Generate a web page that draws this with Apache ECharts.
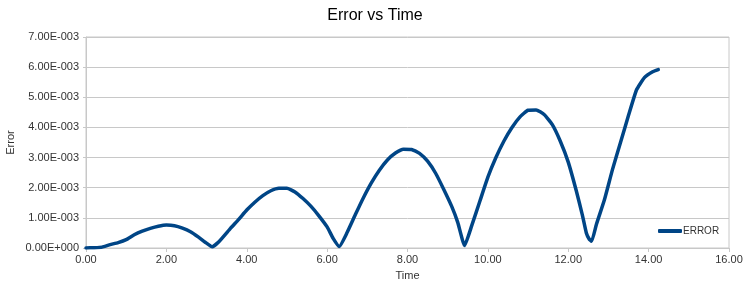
<!DOCTYPE html>
<html><head><meta charset="utf-8">
<script src="https://cdn.jsdelivr.net/npm/echarts@6/dist/echarts.min.js"></script>
<style>html,body{margin:0;padding:0;background:#fff}#c{width:750px;height:281px}</style>
</head><body><div id="c"></div>
<script>
const seriesName = 'ERROR';
const times = [0.0,0.2,0.4,0.6,0.8,1.0,1.2,1.4,1.6,1.8,2.0,2.2,2.4,2.6,2.8,3.0,3.14,3.3,3.6,3.8,4.0,4.2,4.4,4.6,4.8,5.0,5.2,5.4,5.6,5.8,6.0,6.15,6.3,6.5,6.7,6.9,7.1,7.3,7.5,7.7,7.9,8.1,8.3,8.5,8.7,8.9,9.1,9.25,9.42,9.6,9.8,10.0,10.2,10.4,10.6,10.8,11.0,11.2,11.4,11.6,11.8,12.0,12.2,12.35,12.45,12.52,12.58,12.7,12.9,13.1,13.3,13.5,13.7,13.9,14.1,14.24];
const errors = [0.0,0.00001,0.00003,0.00011,0.00018,0.00028,0.00044,0.00056,0.00065,0.00072,0.00076,0.00074,0.00066,0.00054,0.00036,0.00016,0.00004,0.0002,0.00066,0.00095,0.00126,0.00152,0.00174,0.0019,0.00198,0.00198,0.00186,0.00164,0.00138,0.00106,0.0007,0.00032,0.00005,0.00052,0.0011,0.00166,0.00216,0.00258,0.00292,0.00315,0.00328,0.00327,0.00314,0.00288,0.00248,0.00195,0.00138,0.00085,0.00008,0.00075,0.00155,0.00235,0.003,0.00355,0.004,0.00435,0.00457,0.00458,0.00443,0.0041,0.00355,0.00285,0.0019,0.0011,0.0005,0.0003,0.00022,0.00078,0.0016,0.0026,0.0035,0.0044,0.00525,0.00566,0.00585,0.00592];
const xTicks = {min:0, max:16, interval:2};
const yTicks = {min:0, max:0.007, interval:0.001};

function sci(v){
  if (v === 0) return '0.00E+000';
  const e = Math.floor(Math.log10(Math.abs(v)) + 1e-9);
  const m = v / Math.pow(10, e);
  const s = e < 0 ? '-' : '+';
  return m.toFixed(2) + 'E' + s + String(Math.abs(e)).padStart(3,'0');
}
const data = times.map((t,i)=>[t, errors[i]]);
const chart = echarts.init(document.getElementById('c'), null, {renderer:'canvas'});
const lab = {fontFamily:'Liberation Sans', fontSize:11, color:'#333'};
chart.setOption({
  animation:false,
  title:{text:'Error vs Time', left:'center', top:3, textStyle:{fontFamily:'Liberation Sans', fontSize:16, fontWeight:'normal', color:'#000'}},
  grid:{left:86, right:21, top:37, bottom:33, outerBoundsMode:'none', containLabel:false, show:true, borderColor:'#c8c8c8', borderWidth:1},
  legend:{data:[seriesName], left:653, top:221, icon:'roundRect', itemWidth:24, itemHeight:4, itemGap:0,
    textStyle:{fontFamily:'Liberation Sans', fontSize:10, color:'#333', padding:[0,0,0,-4]}},
  xAxis:{type:'value', min:xTicks.min, max:xTicks.max, interval:xTicks.interval,
    name:'Time', nameLocation:'middle', nameGap:22, nameMoveOverlap:false, nameTextStyle:lab,
    axisLine:{show:true, lineStyle:{color:'#c8c8c8'}}, axisTick:{show:true, length:4, lineStyle:{color:'#c8c8c8'}},
    axisLabel:Object.assign({margin:6, formatter:v=>v.toFixed(2)}, lab), splitLine:{show:false}},
  yAxis:{type:'value', min:yTicks.min, max:yTicks.max, interval:yTicks.interval,
    name:'Error', nameLocation:'middle', nameGap:70, nameMoveOverlap:false, nameRotate:90, nameTextStyle:lab,
    axisLine:{show:true, lineStyle:{color:'#c8c8c8'}}, axisTick:{show:true, length:3, lineStyle:{color:'#c8c8c8'}},
    axisLabel:Object.assign({margin:7, formatter:sci}, lab), splitLine:{show:true, lineStyle:{color:'#c8c8c8'}}},
  series:[{name:seriesName, type:'line', data:data, showSymbol:false, smooth:0.15,
    lineStyle:{color:'#004586', width:3.5, cap:'round', join:'round'}, itemStyle:{color:'#004586'}}]
});
</script></body></html>
